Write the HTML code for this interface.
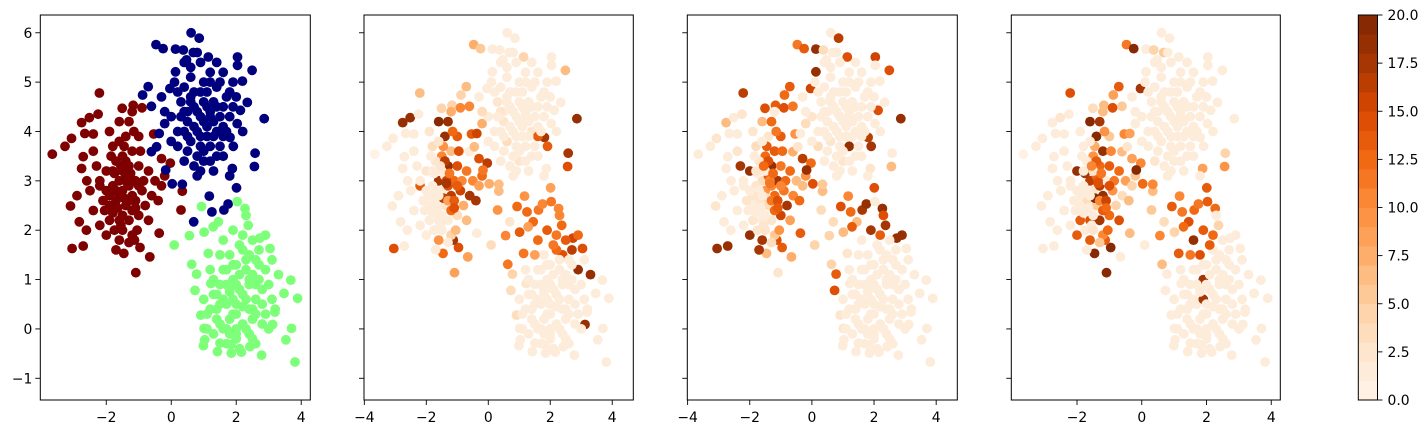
<!DOCTYPE html>
<html><head><meta charset="utf-8">
<style>
html,body{margin:0;padding:0;background:#fff;}
svg{display:block;font-family:"DejaVu Sans","Liberation Sans",sans-serif;}
</style></head>
<body>
<svg id="fig" width="1427" height="434" viewBox="0 0 1427 434" xmlns="http://www.w3.org/2000/svg"></svg>
<script>
// ---- data: red cluster ----
const redX=[-3.66,-3.27,-3.07,-2.76,-2.52,-2.25,-2.21,-1.51,-1.17,-0.90,-0.54,-0.30,-0.03,0.34,0.30,-0.37,-0.66,-1.09,-1.46,-0.96,-1.13,-2.71,-3.05,-3.10,-2.83,-2.61,-2.76,-2.71,-2.66,
-1.5,-1.3,-1.7,-1.4,-1.2,-1.6,-1.8,-1.1,-1.9,-1.3,-1.5,-1.7,-1.2,-1.0,-0.9,-0.8,-1.0,-1.3,-1.6,-1.9,-2.1,-2.2,-2.0,-2.3,-1.8,-1.4,-1.0,-0.7,-0.6,-0.7,-1.2,-1.6,-2.0,-2.4,-2.5,-2.4,-1.9,-1.6,-1.3,-0.5,-0.4,-2.2,-1.45,-1.75,
-1.4,-1.6,-1.2,-1.8,-1.5,-1.3,-1.7,-1.1,-1.9,-1.5,-1.35,-1.65,-1.25,-1.55,-1.45,-1.05,-0.95,-1.85,-2.05,-1.75,-1.15,-1.6,-1.4,-2.2,-0.85,-1.3,-1.7,-1.0,-2.0,-1.5,-1.2,-2.6,-2.9,-0.3,-0.2,-1.1,-1.8,-2.4,-1.55,-1.35];
const redY=[3.54,3.70,3.86,4.18,4.28,4.35,4.78,4.47,4.53,4.48,3.95,3.45,3.36,2.79,2.41,1.94,1.46,1.14,1.53,1.65,1.80,1.68,1.63,2.49,2.17,2.0,3.25,3.49,3.96,
2.8,2.9,2.6,2.5,2.7,3.0,2.9,3.0,2.5,3.3,3.5,3.4,3.6,3.3,2.8,2.5,2.3,2.2,2.2,2.2,2.6,2.9,3.2,3.3,3.7,3.9,3.9,3.2,2.7,2.2,1.9,1.8,1.9,2.4,2.8,3.6,4.0,4.2,4.2,3.0,2.6,2.1,2.65,3.15,
3.1,2.7,2.4,3.2,2.3,2.6,2.8,2.6,2.7,3.2,3.0,2.45,3.15,2.1,3.7,2.0,3.6,3.5,2.4,2.0,4.0,3.8,3.4,3.0,3.0,1.75,1.6,2.9,2.8,2.0,4.4,3.0,2.7,2.9,3.1,2.45,2.35,3.95,3.3,2.95];
const redV2=[0,1,1,18,18,1,6,4,4,10,13,14,16,6,9,1,8,8,12,14,17,1,14,1,1,1,1,1,1,
1,14,1,2,16,17,1,12,1,18,10,2,6,14,15,7,3,1,1,1,1,13,2,1,3,18,13,11,17,6,4,9,1,1,1,1,2,19,18,10,17,1,16,1,
1,1,12,1,1,8,1,13,1,1,15,1,11,1,9,6,14,1,1,1,12,2,16,1,10,1,1,13,1,1,7,1,1,8,12,14,1,1,2,17];
const redV3=[1,1,2,6,1,2,16,14,13,14,9,16,12,6,3,13,7,2,6,13,14,18,18,2,1,1,1,1,1,
9,10,2,3,12,3,2,17,1,18,12,2,13,11,11,17,15,2,1,2,2,1,18,17,3,2,13,12,10,8,5,17,18,1,1,2,2,6,12,6,12,1,3,1,
13,1,12,2,1,11,1,14,2,1,10,1,12,2,13,9,12,1,1,2,11,1,14,1,12,3,17,10,1,2,1,1,1,6,9,13,1,1,12,11];
const redV4=[0,1,1,1,2,1,14,3,6,14,10,8,10,6,5,6,1,19,19,19,13,1,1,1,1,1,1,1,1,
2,16,3,5,18,16,1,1,1,12,9,1,18,13,9,4,12,17,14,13,1,1,18,1,1,19,5,12,3,14,10,13,13,1,1,1,1,19,17,8,6,1,19,17,
12,1,13,1,1,10,1,15,1,2,13,1,11,1,7,12,10,1,1,1,9,1,13,1,11,5,1,14,1,2,6,1,1,4,5,12,1,1,10,14];
// ---- data: blue cluster ----
const blueX=[0.61,0.86,-0.47,-0.25,0.13,0.37,0.68,1.14,2.04,2.04,2.49,2.19,2.34,2.13,2.86,2.03,1.81,1.91,2.58,2.56,1.88,2.01,1.17,1.25,1.62,1.75,0.69,0.03,0.34,-0.17,-0.61,-0.45,-0.37,-0.20,-0.61,-0.88,-0.71,-0.04,0.13,0.47,
0.9,0.7,1.1,0.5,1.3,0.8,0.6,1.2,1.5,1.4,1.0,0.6,0.3,0.2,0.0,1.7,1.8,1.6,1.9,1.0,0.4,0.8,1.3,1.6,0.2,-0.2,-0.3,0.4,0.9,1.2,0.7,1.1,0.4,1.4,0.9,0.5,1.2,1.6,0.1,1.8,
0.8,1.0,0.6,1.2,0.4,1.4,0.9,1.1,0.7,1.3,0.5,1.6,0.3,1.0,0.8,1.5,1.2,0.6,0.9,1.7,0.2,1.1,1.4,0.7,1.9,0.5,1.3,0.0,1.6,0.9,2.2,1.8,0.4,1.0,1.5,0.6,1.2,2.0,0.8,1.4];
const blueY=[6.0,5.89,5.76,5.68,5.67,5.65,5.6,5.51,5.51,5.34,5.24,5.02,4.59,4.43,4.26,4.16,3.88,3.70,3.56,3.29,3.25,2.86,2.69,2.37,2.41,2.53,2.17,2.94,2.93,3.22,3.59,3.69,3.96,4.16,4.51,4.74,4.91,4.87,5.21,5.45,
4.3,4.5,4.1,4.2,4.6,4.0,3.8,3.7,4.3,4.9,5.0,5.1,4.6,4.0,4.3,4.7,4.3,5.2,5.0,3.4,3.4,3.1,3.2,3.5,3.7,4.4,4.7,5.4,5.4,5.2,4.8,4.5,4.9,4.0,3.7,4.4,3.4,3.9,5.0,3.1,
4.4,4.2,4.6,4.4,4.4,4.5,4.8,3.9,4.1,4.2,3.9,4.1,4.3,4.6,3.5,3.7,5.0,5.3,3.9,4.0,4.8,4.8,5.4,3.3,4.5,3.6,3.9,3.8,4.5,3.2,4.0,4.8,4.0,3.6,5.0,4.7,4.3,4.7,5.6,3.5];
const blueV2=[1,1,7,5,1,1,1,4,1,1,6,1,1,1,18,1,17,13,17,14,1,8,9,12,11,10,2,7,6,11,1,6,15,7,10,4,6,1,1,1,
1,1,1,2,1,1,3,1,1,1,1,1,2,1,1,1,1,1,1,2,1,1,1,1,1,3,1,1,1,1,1,1,1,2,1,1,1,13,1,1,
1,1,1,1,2,1,1,1,1,1,1,1,1,1,1,1,1,1,1,1,1,1,1,1,1,1,1,1,1,1,1,1,1,1,1,1,1,1,1,1];
const blueV3=[1,16,11,13,18,3,1,14,15,1,14,1,1,14,18,1,16,17,1,6,2,14,10,12,17,18,3,14,5,18,7,2,1,3,11,12,13,15,18,1,
1,1,1,1,1,1,2,18,1,1,1,1,1,1,2,1,1,1,1,2,1,1,1,1,3,1,1,1,1,1,1,1,1,1,1,1,1,1,1,1,
1,1,1,1,1,1,1,1,1,1,1,1,1,1,1,1,1,1,1,1,1,1,1,1,1,1,1,1,1,1,1,1,1,1,1,1,1,1,1,1];
const blueV4=[1,1,11,19,1,4,5,1,1,1,1,1,1,1,1,1,1,1,4,9,8,13,10,11,12,11,3,12,10,19,6,2,8,1,5,8,13,17,1,1,
1,1,1,1,1,1,1,1,1,1,1,1,1,1,1,1,1,1,1,1,2,1,1,1,1,1,1,1,1,1,1,1,1,1,1,1,1,1,1,1,
1,1,1,1,1,1,1,1,1,1,1,1,1,1,1,1,1,1,1,1,1,1,1,1,1,1,1,1,1,1,1,1,1,1,1,1,1,1,1,1];
// ---- data: green cluster ----
const greenX=[0.93,0.09,0.56,0.63,0.78,0.73,0.91,1.01,1.03,0.99,1.42,1.85,2.16,2.78,3.53,3.81,3.70,3.89,3.68,3.47,3.12,3.19,3.04,2.73,2.37,2.27,2.03,1.45,1.29,1.01,1.14,1.22,1.50,1.84,2.42,
2.1,1.9,2.3,1.7,2.5,2.0,1.6,2.4,2.8,1.4,1.8,2.2,2.6,1.5,2.9,1.2,2.0,2.5,1.7,3.1,1.3,2.7,1.9,1.6,2.3,1.1,2.2,3.0,1.8,2.6,1.5,3.3,2.0,1.4,2.4,1.9,2.7,1.3,2.1,3.2,2.9,1.0,2.3,1.7,2.5,
2.0,2.2,1.8,2.4,1.6,2.6,2.1,1.9,2.3,1.7,2.5,2.8,1.5,2.0,2.2,1.8,2.7,1.4,2.4,3.0,1.6,2.1,2.9,1.3,2.5,2.0,1.9,2.3,1.2,2.6,1.7,3.1,2.2,1.8,2.4,1.5,2.8,2.0,2.6,1.1];
const greenY=[2.48,1.70,1.89,1.31,1.11,0.78,0.28,0.01,-0.22,-0.34,-0.46,-0.49,-0.47,-0.53,-0.22,-0.67,0.01,0.62,0.99,0.72,0.09,0.34,1.63,1.84,2.1,2.44,2.58,2.17,2.07,1.96,1.53,0.92,-0.29,-0.32,-0.36,
0.8,1.0,0.6,0.5,1.1,0.3,1.2,1.5,0.8,0.7,1.5,1.9,0.3,0.1,1.2,0.4,-0.1,-0.2,-0.3,0.6,1.0,1.6,2.0,1.8,1.2,0.0,0.1,0.0,0.2,0.6,1.5,1.1,1.3,0.4,0.9,0.6,1.0,-0.1,-0.4,0.4,1.9,0.6,2.3,0.9,0.4,
0.9,0.7,0.8,0.4,0.6,0.9,1.1,0.3,1.4,1.2,0.2,0.5,0.9,0.5,1.6,-0.1,1.3,0.2,-0.1,0.9,0.0,1.7,0.3,0.7,1.8,-0.2,1.3,0.0,1.2,1.4,0.0,1.4,0.45,0.75,1.0,0.5,0.1,0.0,-0.3,0.3];
const greenV2=[12,3,10,11,4,3,3,1,1,1,1,1,1,1,1,1,1,1,1,1,18,1,14,15,12,10,11,12,8,13,11,2,1,1,1,
1,1,1,1,1,1,1,14,1,1,1,11,1,1,18,1,1,1,1,1,1,16,13,12,1,1,1,1,1,1,8,18,1,1,1,1,1,1,1,1,12,1,10,1,1,
1,1,1,1,1,1,1,1,1,1,1,1,1,1,12,1,1,1,1,1,1,11,1,1,13,1,1,1,1,1,1,1,1,1,1,1,1,1,1,1];
const greenV3=[14,4,4,4,13,14,2,2,1,1,1,1,1,1,1,1,1,1,1,1,1,1,1,18,17,18,1,6,13,6,2,1,1,1,1,
1,1,1,1,1,1,1,1,1,1,1,13,1,1,1,1,1,1,1,1,1,1,17,1,1,1,1,1,1,1,1,1,1,1,1,1,1,1,1,1,18,1,14,1,1,
1,1,1,1,1,1,1,1,1,1,1,1,1,1,1,1,1,1,1,1,1,1,1,1,1,1,1,1,1,1,1,1,1,1,1,1,1,1,1,1];
const greenV4=[13,1,10,6,1,1,1,1,1,1,1,1,1,1,1,1,1,1,1,1,1,1,1,1,4,12,13,14,12,4,13,1,1,1,1,
1,17,1,1,1,1,1,1,1,1,14,12,1,1,1,1,1,1,1,1,1,1,13,18,1,1,1,1,1,1,11,1,1,1,1,17,1,1,1,1,1,1,1,1,1,
1,1,1,1,1,1,1,1,1,1,1,1,1,1,1,1,1,1,1,1,1,13,1,1,1,1,1,1,1,1,1,1,1,1,1,1,1,1,1,1];
// ---- ticks ----
const yTicks=[-1,0,1,2,3,4,5,6];
const xTicksA=[-2,0,2,4];
const xTicksB=[-4,-2,0,2,4];
const cbTicks=[0,2.5,5,7.5,10,12.5,15,17.5,20];
const cbLevels=20, cbMax=20;

const NS="http://www.w3.org/2000/svg";
const svg=document.getElementById('fig');
function mk(tag,attrs,parent){const e=document.createElementNS(NS,tag);for(const k in attrs)e.setAttribute(k,attrs[k]);(parent||svg).appendChild(e);return e;}
const oranges=[[255,245,235],[254,230,206],[253,208,162],[253,174,107],[253,141,60],[241,105,19],[217,72,1],[166,54,3],[127,39,4]];
function cmap(t){t=Math.max(0,Math.min(1,t));const p=t*8,i=Math.min(7,Math.floor(p)),f=p-i;const a=oranges[i],b=oranges[i+1];
return 'rgb('+a.map((v,k)=>Math.round(v+(b[k]-v)*f)).join(',')+')';}
function valColor(v){const band=Math.min(cbLevels-1,Math.floor(v/cbMax*cbLevels));return cmap((band+0.5)/cbLevels);}
function fmt(v){return v<0?'\u2212'+(-v):String(v);}

const plotTop=15,plotBottom=400;
const yMin=-1.44,yMax=6.36;
const panels=[
 {left:40.3,right:310.3,xmin:-4.03,xmax:4.28,ticks:xTicksA,mode:'cls',ylab:true},
 {left:364,right:633.3,xmin:-4.01,xmax:4.68,ticks:xTicksB,mode:'v2'},
 {left:687.3,right:957.3,xmin:-4.01,xmax:4.68,ticks:xTicksB,mode:'v3'},
 {left:1011.3,right:1280.3,xmin:-4.03,xmax:4.28,ticks:xTicksA,mode:'v4'}
];
const clusters=[
 {name:'red',x:redX,y:redY,v2:redV2,v3:redV3,v4:redV4,col:'#7f0000'},
 {name:'blue',x:blueX,y:blueY,v2:blueV2,v3:blueV3,v4:blueV4,col:'#00007f'},
 {name:'green',x:greenX,y:greenY,v2:greenV2,v3:greenV3,v4:greenV4,col:'#7dff7a'}
];
panels.forEach((p,pi)=>{
  const g=mk('g',{});
  
  
  const sx=v=>p.left+(v-p.xmin)/(p.xmax-p.xmin)*(p.right-p.left);
  const sy=v=>plotBottom-(v-yMin)/(yMax-yMin)*(plotBottom-plotTop);
  const clipId='clip'+pi;
  const cp=mk('clipPath',{id:clipId},g);mk('rect',{x:p.left,y:plotTop,width:p.right-p.left,height:plotBottom-plotTop},cp);
  const pts=mk('g',{'clip-path':'url(#'+clipId+')'},g);
  
  
  clusters.forEach(c=>{
    for(let i=0;i<c.x.length;i++){
      const fill=p.mode==='cls'?c.col:valColor(c[p.mode][i]);
      const pt=mk('circle',{cx:sx(c.x[i]).toFixed(1),cy:sy(c.y[i]).toFixed(1),r:4.9,fill:fill},pts);
      
      
    }
  });
  const fr=mk('rect',{x:p.left,y:plotTop,width:p.right-p.left,height:plotBottom-plotTop,fill:'none',stroke:'#000','stroke-width':1},g);
  
  
  p.ticks.forEach(t=>{
    const x=sx(t);
    mk('line',{x1:x,y1:plotBottom,x2:x,y2:plotBottom+5,stroke:'#000','stroke-width':0.9},g);
    const tx=mk('text',{x:x,y:422,'font-size':13.9,'text-anchor':'middle',fill:'#000'},g);
    tx.textContent=fmt(t);
    
    
  });
  yTicks.forEach(t=>{
    const y=sy(t);
    mk('line',{x1:p.left,y1:y,x2:p.left-5,y2:y,stroke:'#000','stroke-width':0.9},g);
    if(p.ylab){
      const tx=mk('text',{x:p.left-8,y:y+5,'font-size':13.9,'text-anchor':'end',fill:'#000'},g);
      tx.textContent=fmt(t);
      
      
    }
  });
});
// colorbar
const cb=mk('g',{});


const cbL=1358.3,cbR=1377.5;
const cby=v=>plotBottom-v/cbMax*(plotBottom-plotTop);
for(let i=0;i<cbLevels;i++){
  const v0=i*cbMax/cbLevels,v1=(i+1)*cbMax/cbLevels;
  const r=mk('rect',{x:cbL,y:cby(v1),width:cbR-cbL,height:cby(v0)-cby(v1)+0.3,fill:cmap((i+0.5)/cbLevels)},cb);
  
  
}
mk('rect',{x:cbL,y:plotTop,width:cbR-cbL,height:plotBottom-plotTop,fill:'none',stroke:'#000','stroke-width':1},cb);
cbTicks.forEach(t=>{
  const y=cby(t);
  mk('line',{x1:cbR,y1:y,x2:cbR+5,y2:y,stroke:'#000','stroke-width':0.9},cb);
  const tx=mk('text',{x:1387.5,y:y+5,'font-size':13.9,fill:'#000'},cb);
  tx.textContent=t.toFixed(1);
  
  
});
</script>
</body></html>
